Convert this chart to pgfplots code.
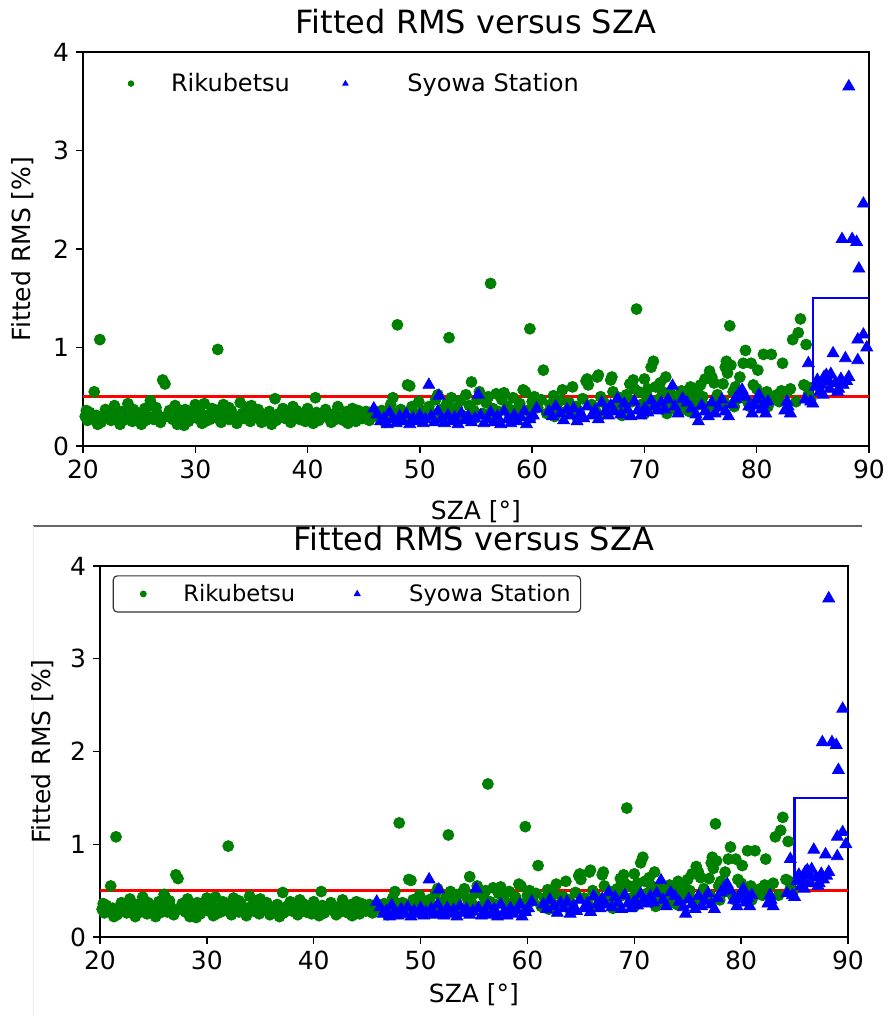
\documentclass[border=0pt]{standalone}
\usepackage{pgfplots}
\pgfplotsset{compat=1.18}
\usepackage{pgfplotstable}
\usepackage{fontspec}
\setmainfont{DejaVu Sans}
\definecolor{mgreen}{RGB}{0,128,0}
\definecolor{mblue}{RGB}{0,0,255}
\definecolor{mred}{RGB}{255,0,0}

\pgfplotstableread{
x y
20.2 0.30
20.3 0.36
20.4 0.26
20.6 0.34
20.9 0.28
21.0 0.55
21.2 0.31
21.3 0.22
21.5 1.08
21.6 0.24
21.9 0.29
22.0 0.37
22.2 0.33
22.5 0.26
22.8 0.41
23.0 0.30
23.1 0.33
23.3 0.22
23.5 0.35
23.8 0.27
24.0 0.43
24.2 0.31
24.4 0.25
24.5 0.37
24.7 0.34
25.0 0.29
25.2 0.22
25.5 0.38
25.6 0.26
25.8 0.30
26.0 0.46
26.1 0.41
26.3 0.27
26.5 0.39
26.6 0.33
26.9 0.24
27.1 0.67
27.3 0.63
27.4 0.30
27.7 0.36
27.9 0.32
28.0 0.27
28.2 0.41
28.4 0.22
28.6 0.33
28.9 0.29
29.0 0.21
29.1 0.37
29.4 0.25
29.7 0.31
29.9 0.35
30.0 0.42
30.2 0.28
30.4 0.35
30.6 0.23
30.8 0.43
30.9 0.25
31.0 0.31
31.3 0.27
31.5 0.38
31.8 0.29
31.9 0.36
32.0 0.98
32.1 0.34
32.3 0.24
32.5 0.42
32.7 0.31
33.0 0.27
33.0 0.39
33.2 0.36
33.5 0.30
33.7 0.23
33.9 0.27
34.0 0.44
34.2 0.33
34.4 0.28
34.6 0.39
34.9 0.25
35.0 0.41
35.1 0.34
35.3 0.29
35.6 0.37
35.8 0.32
35.9 0.24
36.1 0.32
36.4 0.27
36.6 0.35
36.8 0.22
36.9 0.30
37.1 0.48
37.2 0.26
37.5 0.33
37.7 0.30
37.8 0.38
38.0 0.28
38.3 0.35
38.5 0.24
38.7 0.40
38.8 0.31
39.0 0.36
39.3 0.27
39.5 0.33
39.6 0.30
39.8 0.25
40.0 0.38
40.3 0.29
40.5 0.23
40.7 0.49
40.8 0.34
41.0 0.26
41.3 0.31
41.5 0.34
41.6 0.37
41.9 0.28
42.1 0.24
42.4 0.33
42.5 0.27
42.7 0.40
42.9 0.29
43.2 0.26
43.5 0.35
43.6 0.23
43.8 0.30
44.0 0.38
44.3 0.25
44.5 0.36
44.6 0.32
44.9 0.28
45.2 0.35
45.5 0.26
45.5 0.34
45.8 0.31
46.2 0.30
46.6 0.36
46.9 0.24
47.0 0.28
47.4 0.42
47.6 0.49
47.8 0.33
48.0 1.23
48.3 0.37
48.5 0.27
48.6 0.30
48.9 0.62
49.1 0.61
49.3 0.40
49.6 0.32
49.9 0.45
50.0 0.26
50.2 0.35
50.5 0.29
50.8 0.40
51.1 0.33
51.4 0.47
51.5 0.28
51.6 0.52
51.9 0.37
52.1 0.30
52.4 0.43
52.6 1.10
52.8 0.49
53.0 0.35
53.2 0.27
53.3 0.39
53.6 0.46
53.8 0.31
54.1 0.52
54.4 0.41
54.6 0.65
54.8 0.36
54.9 0.28
55.1 0.47
55.3 0.55
55.6 0.33
55.9 0.44
56.1 0.50
56.3 1.65
56.5 0.38
56.6 0.27
56.8 0.53
57.0 0.35
57.3 0.47
57.5 0.54
57.8 0.40
58.0 0.32
58.2 0.28
58.3 0.49
58.6 0.37
58.9 0.43
59.2 0.57
59.4 0.55
59.6 0.36
59.8 1.19
59.9 0.29
60.0 0.45
60.2 0.50
60.5 0.39
60.8 0.47
61.0 0.77
61.3 0.33
61.6 0.42
61.9 0.51
62.0 0.30
62.2 0.38
62.5 0.46
62.7 0.57
63.0 0.35
63.3 0.44
63.6 0.60
63.9 0.40
64.0 0.29
64.2 0.34
64.5 0.48
64.8 0.66
64.9 0.68
65.0 0.62
65.3 0.42
65.6 0.37
65.8 0.70
65.9 0.72
66.0 0.31
66.1 0.50
66.4 0.44
66.7 0.36
67.0 0.67
67.1 0.70
67.2 0.55
67.5 0.41
67.8 0.49
68.0 0.31
68.1 0.35
68.4 0.52
68.7 0.63
68.9 0.45
69.0 0.67
69.1 0.58
69.3 1.39
69.5 0.55
69.7 0.42
70.0 0.68
70.0 0.33
70.2 0.50
70.3 0.58
70.4 0.37
70.6 0.80
70.8 0.86
71.0 0.60
71.2 0.47
71.4 0.64
71.6 0.55
71.7 0.40
71.9 0.70
72.0 0.33
72.1 0.44
72.4 0.52
72.7 0.38
73.0 0.47
73.2 0.36
73.3 0.56
73.6 0.41
73.9 0.52
74.0 0.35
74.1 0.60
74.4 0.45
74.7 0.56
74.8 0.42
75.0 0.62
75.2 0.50
75.4 0.68
75.5 0.40
75.8 0.76
76.0 0.70
76.0 0.38
76.2 0.64
76.3 0.39
76.5 0.52
76.7 0.46
77.0 0.63
77.1 0.45
77.2 0.80
77.3 0.86
77.4 0.74
77.6 1.22
77.7 0.82
77.9 0.55
78.0 0.40
78.1 0.60
78.3 0.48
78.5 0.70
78.6 0.53
78.8 0.84
79.0 0.97
79.2 0.45
79.4 0.40
79.5 0.84
79.7 0.62
80.0 0.58
80.0 0.44
80.1 0.77
80.4 0.45
80.6 0.93
80.9 0.55
81.0 0.40
81.3 0.93
81.5 0.48
81.8 0.52
82.0 0.45
82.2 0.56
82.3 0.84
82.7 0.55
83.0 0.58
83.2 1.08
83.5 0.45
83.7 1.15
83.9 1.29
84.2 0.62
84.4 1.03
84.5 0.60
84.6 0.52
84.8 0.47
}\riku

\pgfplotstableread{
x y
45.9 0.38
46.2 0.32
46.5 0.25
46.8 0.28
47.1 0.22
47.3 0.34
47.6 0.27
47.9 0.23
48.2 0.30
48.5 0.25
48.8 0.32
49.1 0.22
49.4 0.28
49.7 0.25
50.0 0.31
50.3 0.23
50.5 0.27
50.8 0.62
51.0 0.30
51.3 0.24
51.6 0.35
51.7 0.51
51.9 0.27
52.2 0.23
52.5 0.31
52.8 0.25
53.1 0.29
53.4 0.22
53.7 0.33
54.0 0.26
54.3 0.30
54.6 0.24
54.9 0.28
55.2 0.52
55.4 0.31
55.7 0.23
56.0 0.27
56.3 0.34
56.6 0.24
56.9 0.30
57.2 0.22
57.5 0.35
57.8 0.27
58.1 0.23
58.4 0.31
58.7 0.25
59.0 0.29
59.3 0.35
59.5 0.22
59.8 0.27
60.1 0.31
60.4 0.38
61.5 0.35
61.8 0.30
62.1 0.40
62.5 0.33
62.8 0.26
63.1 0.37
63.4 0.31
63.7 0.38
64.0 0.25
64.3 0.33
64.6 0.28
64.9 0.40
65.3 0.31
65.6 0.36
65.9 0.27
66.2 0.44
66.5 0.35
66.8 0.31
67.0 0.41
67.3 0.35
67.6 0.48
67.9 0.32
68.2 0.43
68.5 0.37
68.8 0.30
69.1 0.45
69.4 0.36
69.7 0.31
70.0 0.38
70.3 0.34
70.6 0.46
70.9 0.40
71.2 0.36
71.5 0.44
71.8 0.37
72.1 0.47
72.5 0.61
72.7 0.40
73.0 0.33
73.4 0.48
73.8 0.44
74.2 0.38
74.6 0.32
74.8 0.25
75.1 0.41
75.4 0.35
75.7 0.30
76.0 0.44
76.3 0.33
76.6 0.39
76.9 0.47
77.2 0.35
77.5 0.30
77.8 0.42
78.1 0.48
78.4 0.53
78.7 0.57
79.0 0.50
79.3 0.40
79.6 0.33
79.8 0.41
80.0 0.47
80.2 0.52
80.4 0.37
80.6 0.42
80.8 0.33
81.0 0.45
82.5 0.36
82.7 0.45
82.8 0.40
83.0 0.33
84.3 0.47
84.6 0.84
84.8 0.45
85.0 0.43
85.2 0.60
85.4 0.67
85.6 0.55
85.8 0.62
85.9 0.52
86.0 0.70
86.2 0.72
86.4 0.66
86.5 0.58
86.6 0.73
86.8 0.94
87.0 0.64
87.2 0.55
87.3 0.58
87.5 0.68
87.7 0.62
87.9 0.89
88.0 0.66
88.2 0.70
88.2 3.65
88.5 2.10
87.6 2.10
88.9 2.07
89.0 0.87
89.0 1.08
89.1 1.80
89.5 1.13
89.5 2.46
89.8 1.00
}\syowa

\pgfplotsset{
  myax/.style={
    scale only axis,
    xmin=20, xmax=90, ymin=0, ymax=4,
    xtick={20,30,...,90}, ytick={0,1,2,3,4},
    tick align=outside, tick pos=left,
    axis line style={line width=0.8pt},
    major tick length=3.5pt,
    every tick/.style={black, line width=0.7pt},
    /pgf/number format/assume math mode=true,
    tick label style={font=\fontsize{12.5}{14}\selectfont},
    label style={font=\fontsize{12.5}{14}\selectfont},
    title style={font=\fontsize{16}{18}\selectfont},
    title={Fitted RMS versus SZA},
    xlabel={SZA [°]},
    ylabel={Fitted RMS [\%]},
    legend columns=2,
    legend cell align=left,
  },
  riku/.style={only marks, mark=*, mark size=2.75pt, mgreen, mark options={fill=mgreen, draw=mgreen},
    legend image code/.code={\path[draw=none, fill=none] (0pt,-2pt) rectangle (30pt,2pt); \draw[##1, mark size=1.4pt] plot coordinates {(12pt,0pt)};}},
  syow/.style={only marks, mark=triangle*, mark size=3.4pt, mblue, mark options={fill=mblue, draw=mblue},
    legend image code/.code={\path[draw=none, fill=none] (0pt,-2pt) rectangle (30pt,2pt); \draw[##1, mark size=1.5pt] plot coordinates {(1pt,0pt)};}},
  syowb/.style={syow,
    legend image code/.code={\path[draw=none, fill=none] (0pt,-2pt) rectangle (30pt,2pt); \draw[##1, mark size=1.5pt] plot coordinates {(6pt,0pt)};}},
}

\begin{document}
\begin{tikzpicture}
\path[use as bounding box] (0,0) rectangle (445pt,508pt);
\draw[black!60, line width=0.6pt] (16.5pt,245pt) -- (431pt,245pt);
\draw[black!8, line width=0.5pt] (16.5pt,245pt) -- (16.5pt,0pt);

% top panel
\begin{axis}[myax, at={(41.5pt,285pt)}, anchor=south west,
  width=393pt, height=197pt,
  title style={yshift=-0.5pt},
  xlabel style={yshift=-4pt},
  ylabel style={yshift=3pt},
  legend style={draw=none, fill=none, at={(0.0224,0.968)}, anchor=north west,
    font=\fontsize{12}{14}\selectfont,
    /tikz/column 2/.style={column sep=24.5pt}},
]
\addplot[riku] table {\riku};
\addlegendentry{Rikubetsu}
\addplot[syow] table {\syowa};
\addlegendentry{Syowa Station}
\addplot[mred, line width=1.3pt, forget plot] coordinates {(20,0.5) (90,0.5)};
\addplot[mblue, line width=1.1pt, forget plot] coordinates {(85,0.5) (85,1.5) (90,1.5)};
\end{axis}

% bottom panel
\begin{axis}[myax, at={(50pt,39.5pt)}, anchor=south west,
  width=374pt, height=185.5pt,
  title style={yshift=-2pt},
  ylabel style={yshift=1.5pt},
  legend style={draw=black!80, line width=0.6pt, rounded corners=2pt, fill=white,
    at={(0.017,0.975)}, anchor=north west,
    font=\fontsize{11.3}{14}\selectfont,
    /tikz/column 2/.style={column sep=23pt}},
]
\addplot[riku] table {\riku};
\addlegendentry{Rikubetsu}
\addplot[syowb] table {\syowa};
\addlegendentry{Syowa Station}
\addplot[mred, line width=1.3pt, forget plot] coordinates {(20,0.5) (90,0.5)};
\addplot[mblue, line width=1.1pt, forget plot] coordinates {(85,0.5) (85,1.5) (90,1.5)};
\end{axis}
\end{tikzpicture}
\end{document}
